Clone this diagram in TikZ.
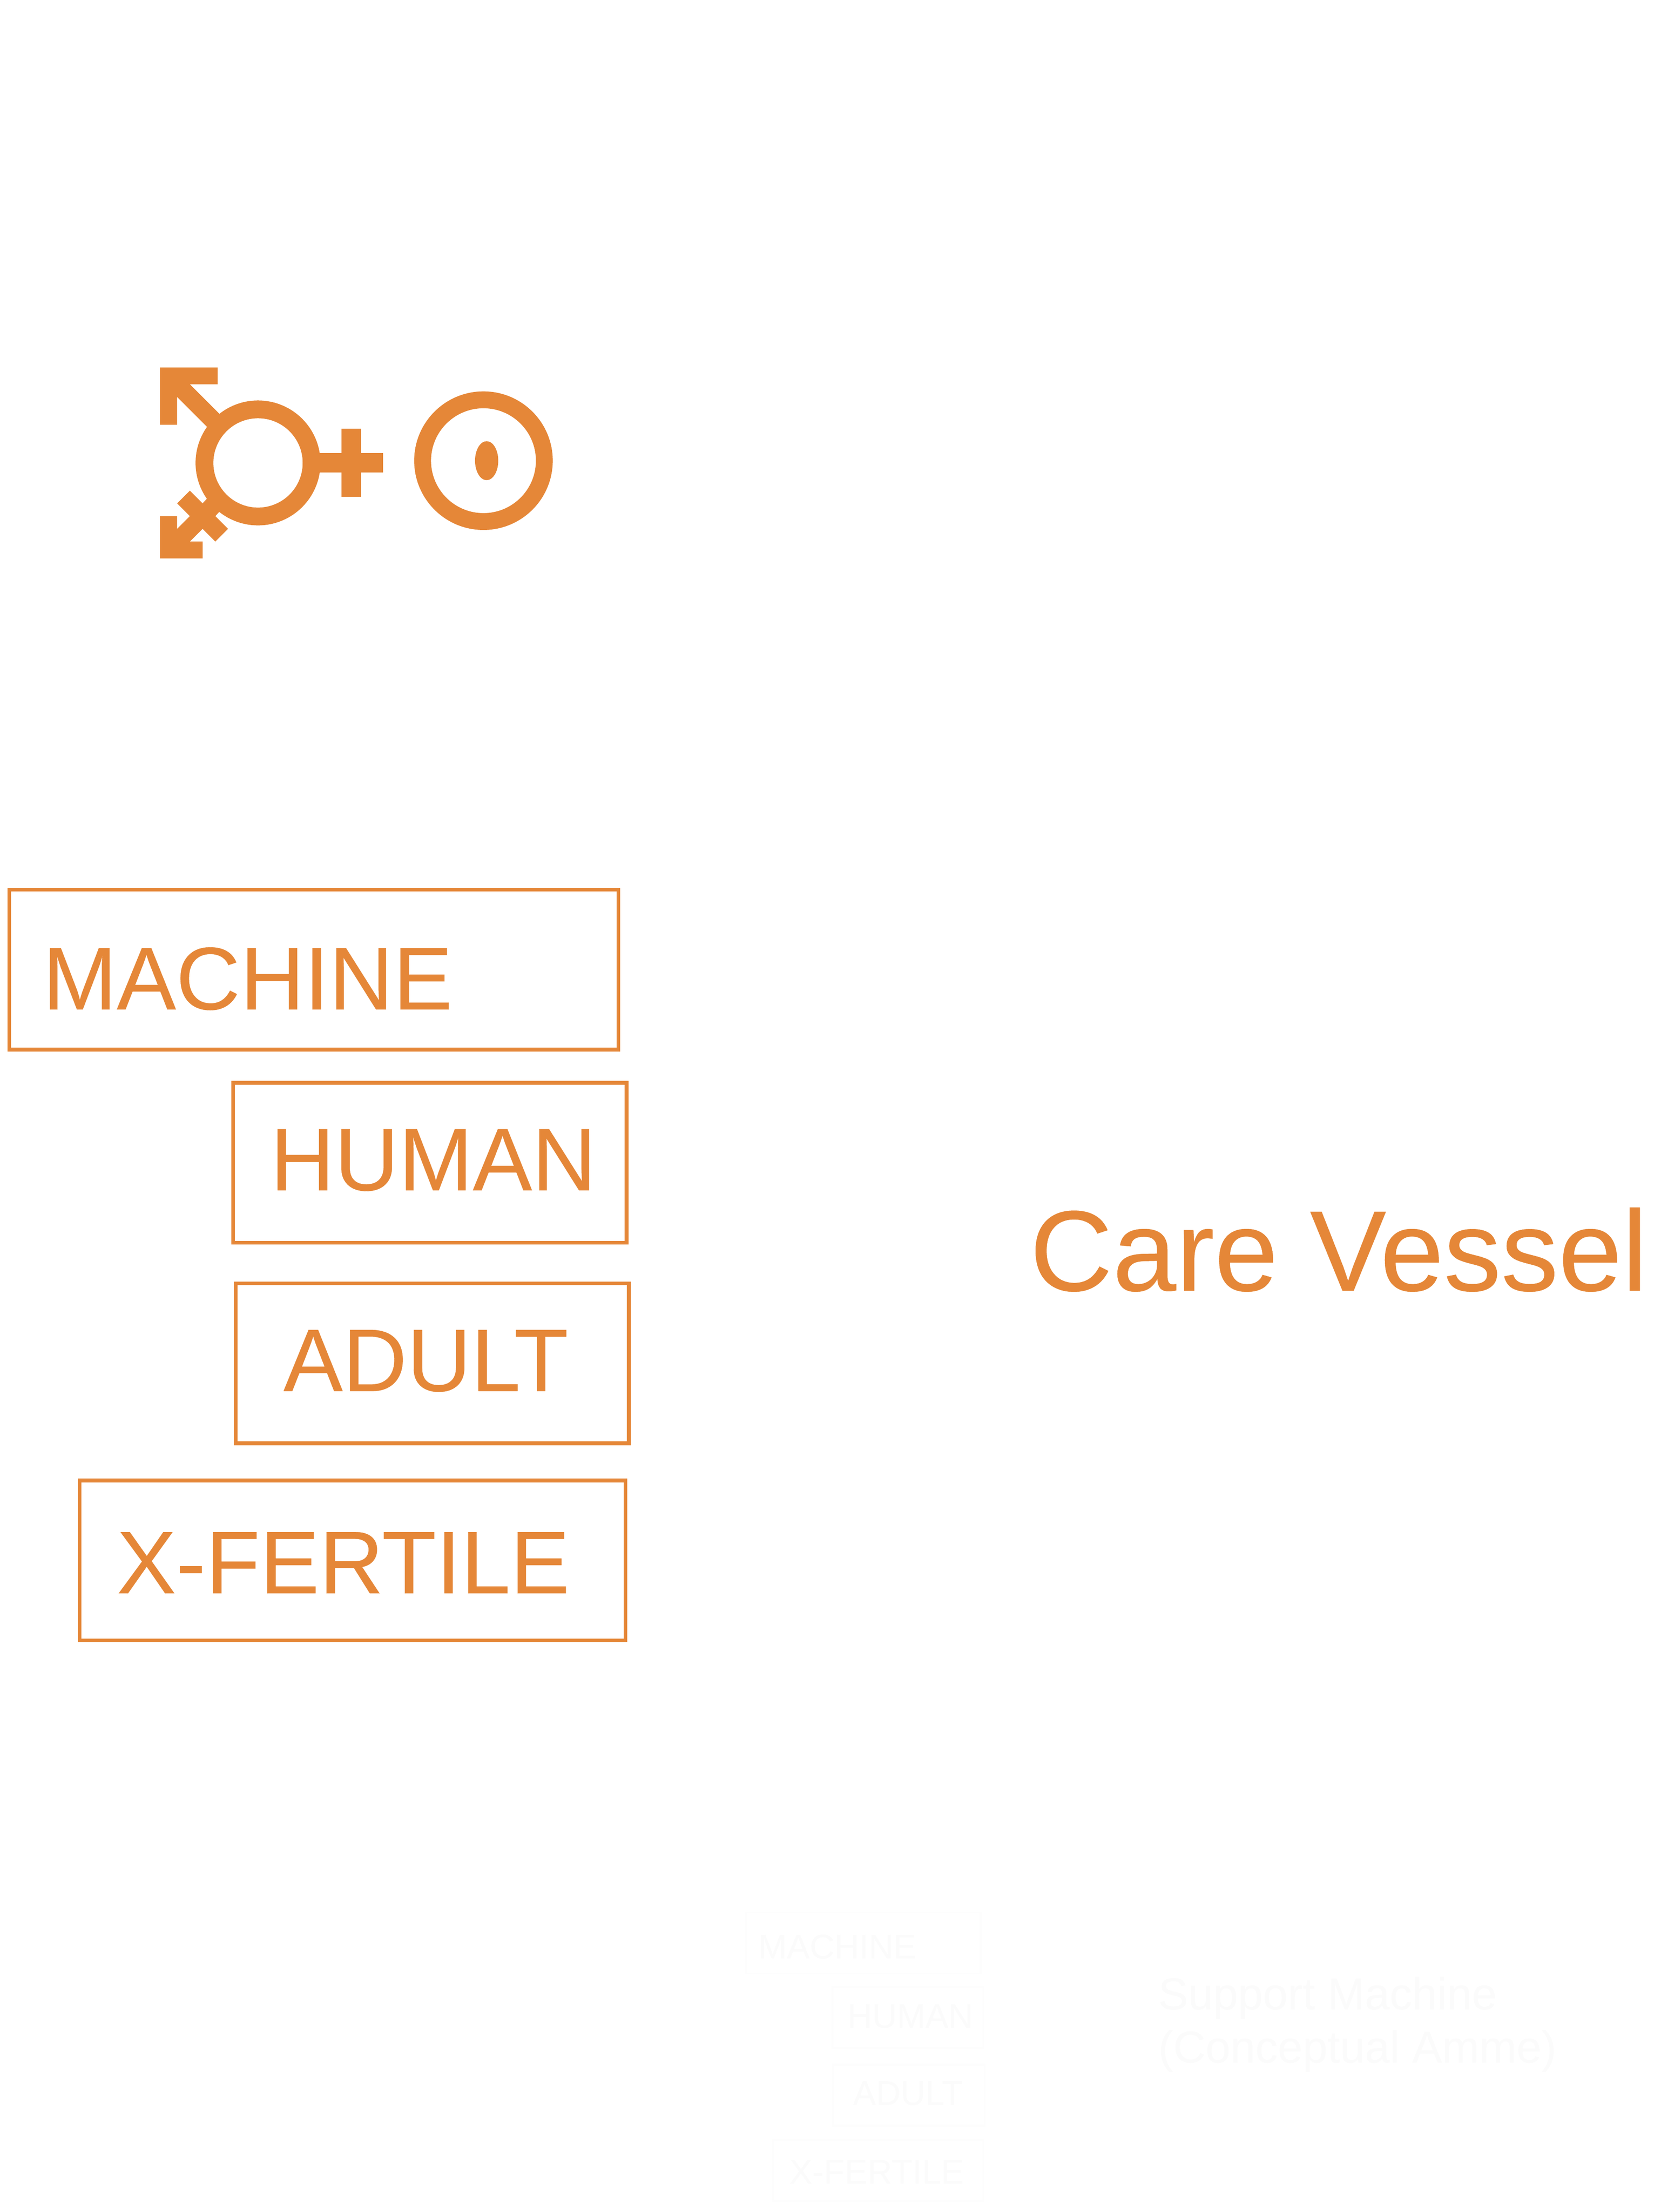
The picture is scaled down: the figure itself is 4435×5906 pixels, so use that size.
\documentclass[tikz,border=0pt]{standalone}
\usepackage{fontspec}
\setmainfont[FakeBold=0.2]{Liberation Sans}
\definecolor{careorange}{HTML}{E58738}
\definecolor{faintgrey}{HTML}{FBFBFB}
\definecolor{faintline}{HTML}{FDFDFD}
\tikzset{
	every node/.style={inner sep=0pt, outer sep=0pt},
	bigbox/.style={draw=careorange, line width=0.1cm, minimum height=4.27cm},
	bigtext/.style={text=careorange, anchor=base west, font=\fontsize{67.5}{82}\selectfont},
	smallbox/.style={draw=faintline, line width=0.05cm, minimum height=1.63cm},
	smalltext/.style={text=faintgrey, anchor=base west, font=\fontsize{26}{31}\selectfont},
}

\begin{document}
\begin{tikzpicture}[x=0.01cm, y=-0.01cm]
	\useasboundingbox (0, 0) rectangle (4435, 5906);

	% gender symbols
	\begin{scope}[fill=careorange, draw=careorange]
		\draw [line width=0.475cm] (689, 1236) circle [radius=143];
		\fill (427, 981) -- (581, 981) -- (581, 1026) -- (507, 1026) -- (586, 1105) -- (553, 1140) -- (473, 1060) -- (473, 1134) -- (427, 1134) -- cycle;
		\fill (427, 1491) -- (541, 1491) -- (541, 1446) -- (507, 1446) -- (541, 1412) -- (575, 1446) -- (609, 1412) -- (575, 1378) -- (586, 1366) -- (553, 1331) -- (541, 1344) -- (507, 1310) -- (473, 1344) -- (507, 1378) -- (473, 1412) -- (473, 1378) -- (427, 1378) -- cycle;
		\fill (830, 1210) rectangle (1023, 1262);
		\fill (912, 1145) rectangle (964, 1327);

		\draw [line width=0.45cm] (1291, 1230) circle [radius=162.5];
		\fill (1299.5, 1230) ellipse [x radius=31, y radius=52];
	\end{scope}

	% large boxes
	\node [bigbox, minimum width=16.26cm] (machinebox) at (838, 2589) {};
	\node [bigbox, minimum width=10.50cm] (humanbox) at (1148, 3104.5) {};
	\node [bigbox, minimum width=10.49cm] (adultbox) at (1154.5, 3640) {};
	\node [bigbox, minimum width=14.57cm] (xfertilebox) at (941.5, 4166.5) {};

	\node [bigtext] (machine) at (114, 2695) {MACHINE};
	\node [bigtext] (human) at (722, 3178) {HUMAN};
	\node [bigtext] (adult) at (757, 3714) {ADULT};
	\node [bigtext] (xfertile) at (312, 4254) {X-FERTILE};

	\node [text=careorange, anchor=base west, font=\fontsize{87}{104}\selectfont] (vessel) at (2750, 3446) {Care Vessel};

	% nearly invisible copy at the bottom
	\node [smallbox, minimum width=6.26cm] (machinesmall) at (2305, 5188) {};
	\node [smallbox, minimum width=4.03cm] (humansmall) at (2424.5, 5387) {};
	\node [smallbox, minimum width=4.05cm] (adultsmall) at (2426.5, 5593.5) {};
	\node [smallbox, minimum width=5.62cm] (xfertilesmall) at (2345, 5795.5) {};

	\node [smalltext] (machinefaint) at (2025, 5229) {MACHINE};
	\node [smalltext] (humanfaint) at (2263, 5414) {HUMAN};
	\node [smalltext] (adultfaint) at (2278, 5620) {ADULT};
	\node [smalltext] (xfertilefaint) at (2108, 5830) {X-FERTILE};

	\node [text=faintgrey, anchor=base west, align=left, font=\fontsize{34}{40.4}\selectfont] (support) at (3093, 5507) {Support Machine\\(Conceptual Amme)};
\end{tikzpicture}
\end{document}
